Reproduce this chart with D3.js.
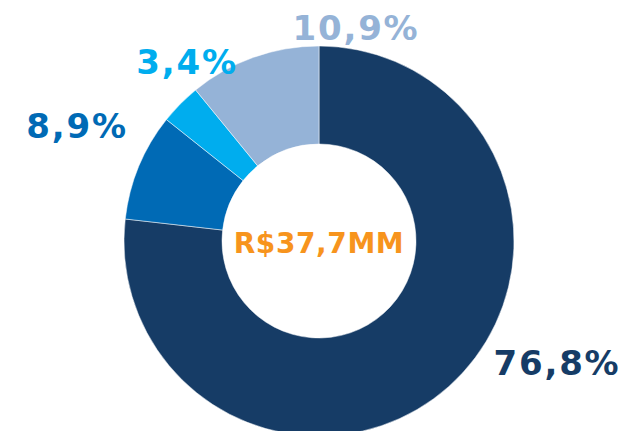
<!DOCTYPE html>
<html>
<head>
    <meta charset="utf-8">
    <script src="https://cdn.jsdelivr.net/npm/d3@7"></script>
    <style>
        body { margin: 0; background: #fff; }
        text { font-family: "DejaVu Sans", Verdana, sans-serif; font-weight: bold; }
    </style>
</head>
<body>
    <svg id="chart"></svg>
    <script>
        // data
        const categories = ["A", "B", "C", "D"];
        const shares = [76.8, 8.9, 3.4, 10.9];
        const shareLabels = ["76,8%", "8,9%", "3,4%", "10,9%"];
        const colors = ["#163c66", "#006ab5", "#00adee", "#95b3d7"];
        const totalLabel = "R$37,7MM";

        const config = {
            width: 624,
            height: 431,
            cx: 319,
            cy: 241,
            outerR: 195,
            innerR: 97,
        };

        // label anchors, relative to the centre (hand placed like the source)
        const labelPos = [
            { x: 238, y: 134 },
            { x: -242, y: -103 },
            { x: -132, y: -167 },
            { x: 37, y: -201 },
        ];

        const svg = d3.select("#chart")
            .attr("width", config.width)
            .attr("height", config.height);

        const g = svg.append("g")
            .attr("transform", `translate(${config.cx}, ${config.cy})`);

        const pie = d3.pie().sort(null).value(d => d.value);
        const arc = d3.arc().innerRadius(config.innerR).outerRadius(config.outerR);

        const data = categories.map((c, i) => ({ name: c, value: shares[i], label: shareLabels[i], color: colors[i] }));

        g.selectAll("path")
            .data(pie(data))
            .enter()
            .append("path")
            .attr("d", arc)
            .attr("fill", d => d.data.color)
            .attr("stroke", "#fff")
            .attr("stroke-width", 0.5);

        g.selectAll("text.pct")
            .data(data)
            .enter()
            .append("text")
            .attr("class", "pct")
            .attr("x", (d, i) => labelPos[i].x)
            .attr("y", (d, i) => labelPos[i].y)
            .attr("text-anchor", "middle")
            .attr("font-size", 34)
            .attr("letter-spacing", 1.8)
            .attr("fill", d => d.color)
            .text(d => d.label);

        g.append("text")
            .attr("x", 0)
            .attr("y", 12)
            .attr("text-anchor", "middle")
            .attr("font-size", 28)
            .attr("letter-spacing", 0.6)
            .attr("fill", "#f7941d")
            .text(totalLabel);
    </script>
</body>
</html>
